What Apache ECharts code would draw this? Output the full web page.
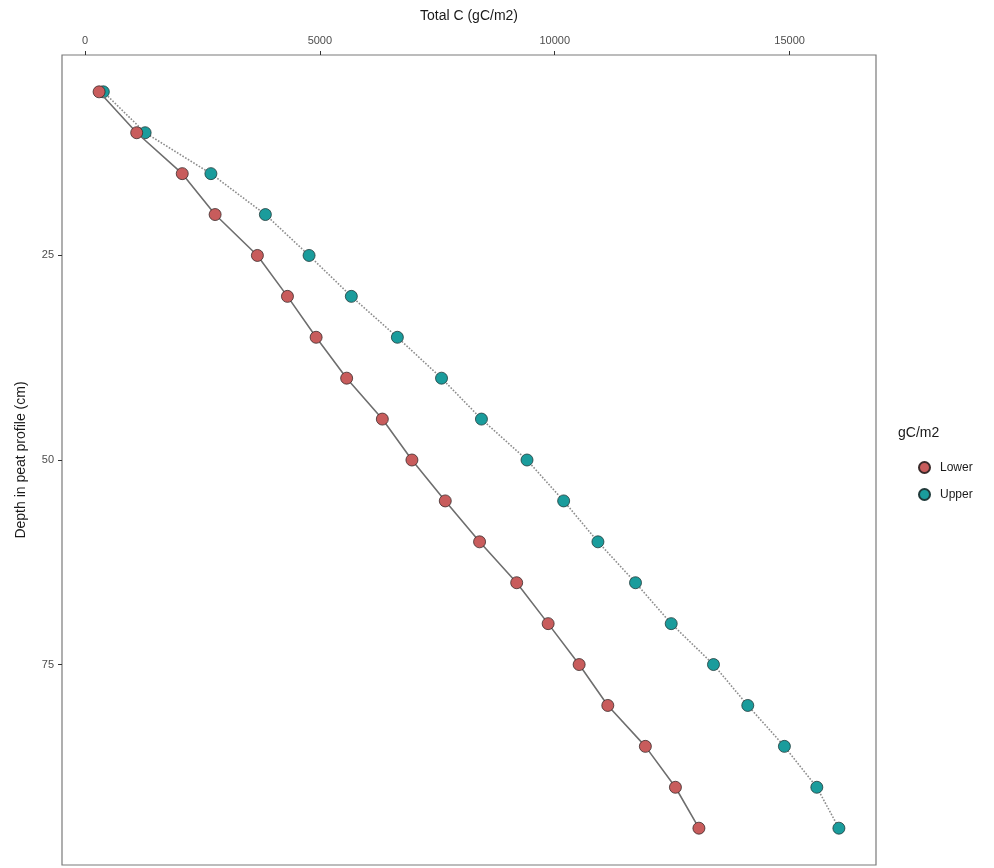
<!DOCTYPE html>
<html>
<head>
<meta charset="utf-8">
<script src="https://cdn.jsdelivr.net/npm/echarts@6/dist/echarts.min.js"></script>
<style>
  html, body { margin: 0; padding: 0; background: #fff; }
  #chart { width: 994px; height: 868px; }
</style>
</head>
<body>
<div id="chart"></div>
<script>
// depth (cm) of each sample
const depths = [5, 10, 15, 20, 25, 30, 35, 40, 45, 50, 55, 60, 65, 70, 75, 80, 85, 90, 95]
// cumulative total C (gC/m2)
const lowerC = [300, 1100, 2070, 2770, 3670, 4310, 4920, 5570, 6330, 6960, 7670, 8400, 9190, 9860, 10520, 11130, 11930, 12570, 13070]
const upperC = [390, 1280, 2680, 3840, 4770, 5670, 6650, 7590, 8440, 9410, 10190, 10920, 11720, 12480, 13380, 14110, 14890, 15580, 16050]
const xTicks = [0, 5000, 10000, 15000]
const yTicks = [25, 50, 75]

const font = 'Liberation Sans, Arial, sans-serif'
const pair = (xs) => xs.map((v, i) => [v, depths[i]])

const myChart = echarts.init(document.getElementById('chart'))
myChart.setOption({
  animation: false,
  textStyle: { fontFamily: font },
  title: [
    {
      text: 'gC/m2',
      left: 893,
      top: 421,
      textStyle: { fontSize: 14, fontWeight: 'normal', color: '#1a1a1a', fontFamily: font }
    }
  ],
  legend: {
    data: ['Lower', 'Upper'],
    orient: 'vertical',
    left: 913,
    top: 456,
    icon: 'circle',
    itemWidth: 11,
    itemHeight: 11,
    itemGap: 14,
    textStyle: { fontSize: 12, color: '#1a1a1a', fontFamily: font, padding: [0, 0, 0, 5] }
  },
  grid: {
    left: 62,
    right: 118,
    top: 55,
    bottom: 3,
    show: true,
    borderColor: '#7a7a7a',
    borderWidth: 1.2,
    backgroundColor: '#fff'
  },
  xAxis: {
    type: 'value',
    position: 'top',
    min: -490,
    max: 16840,
    name: 'Total C (gC/m2)',
    nameLocation: 'middle',
    nameGap: 32,
    nameTextStyle: { fontSize: 14, color: '#1a1a1a' },
    axisLine: { show: false, onZero: false },
    splitLine: { show: false },
    axisTick: { show: true, length: 4, customValues: xTicks, lineStyle: { color: '#333' } },
    axisLabel: { customValues: xTicks, color: '#4d4d4d', fontSize: 11, margin: 9, formatter: (v) => String(v) }
  },
  yAxis: {
    type: 'value',
    inverse: true,
    min: 0.5,
    max: 99.5,
    name: 'Depth in peat profile (cm)',
    nameLocation: 'middle',
    nameGap: 34,
    nameRotate: 90,
    nameTextStyle: { fontSize: 14, color: '#1a1a1a' },
    axisLine: { show: false, onZero: false },
    splitLine: { show: false },
    axisTick: { show: true, length: 4, customValues: yTicks, lineStyle: { color: '#333' } },
    axisLabel: { customValues: yTicks, color: '#4d4d4d', fontSize: 11, margin: 8, formatter: (v) => String(v) }
  },
  series: [
    {
      name: 'Lower',
      type: 'line',
      data: pair(lowerC),
      symbol: 'circle',
      symbolSize: 12,
      lineStyle: { color: '#6e6e6e', width: 1.6, type: 'solid' },
      itemStyle: { color: '#c85c5c', borderColor: '#3a2a2a', borderWidth: 0.8 },
      z: 3
    },
    {
      name: 'Upper',
      type: 'line',
      data: pair(upperC),
      symbol: 'circle',
      symbolSize: 12,
      lineStyle: { color: '#8c8c8c', width: 1.6, type: 'dotted' },
      itemStyle: { color: '#1a9c9c', borderColor: '#203a3a', borderWidth: 0.8 },
      z: 2
    }
  ]
})
</script>
</body>
</html>
